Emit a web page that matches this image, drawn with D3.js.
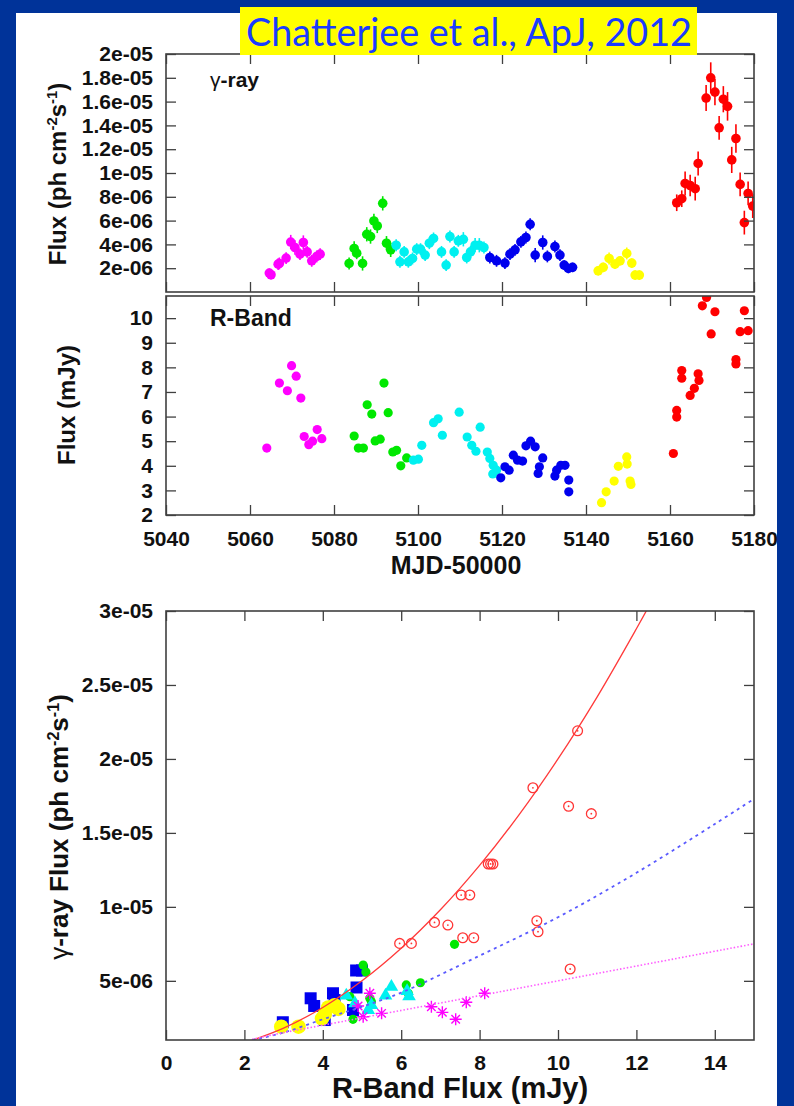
<!DOCTYPE html>
<html>
<head>
<meta charset="utf-8">
<script src="https://cdn.jsdelivr.net/npm/d3@7"></script>
<style>
  body { margin: 0; background: #003399; }
  svg { display: block; }
</style>
</head>
<body>
<div id="chart"></div>
<script>
// ---- tick values / labels ----
const mjdTicks = [5040, 5060, 5080, 5100, 5120, 5140, 5160, 5180];
const gammaTicks = [2e-06, 4e-06, 6e-06, 8e-06, 1e-05, 1.2e-05, 1.4e-05, 1.6e-05, 1.8e-05, 2e-05];
const gammaTickLabels = ["2e-06", "4e-06", "6e-06", "8e-06", "1e-05", "1.2e-05", "1.4e-05", "1.6e-05", "1.8e-05", "2e-05"];
const rTicks = [2, 3, 4, 5, 6, 7, 8, 9, 10];
const scatterXTicks = [0, 2, 4, 6, 8, 10, 12, 14];
const scatterYTicks = [5e-06, 1e-05, 1.5e-05, 2e-05, 2.5e-05, 3e-05];
const scatterYTickLabels = ["5e-06", "1e-05", "1.5e-05", "2e-05", "2.5e-05", "3e-05"];

// gamma-ray light curve: [MJD-50000, flux (1e-6 ph cm-2 s-1), error (1e-6)]
const gammaMagenta = [[5064.6,1.59,0.4],[5065.0,1.45,0.4],[5066.7,2.34,0.5],[5067.0,2.4,0.5],[5068.6,2.85,0.5],[5069.7,4.2,0.6],[5070.7,3.74,0.6],[5071.9,3.18,0.5],[5072.7,4.16,0.6],[5073.6,3.37,0.5],[5074.7,2.62,0.5],[5075.9,2.99,0.5],[5076.7,3.18,0.5]];
const gammaGreen = [[5083.6,2.4,0.5],[5084.8,3.66,0.6],[5085.4,3.26,0.5],[5086.8,2.4,0.6],[5087.8,4.85,0.6],[5088.7,4.66,0.6],[5089.5,5.97,0.6],[5090.3,5.55,0.6],[5091.6,7.45,0.6],[5092.5,4.1,0.6],[5093.5,3.54,0.6]];
const gammaCyan = [[5094.8,3.93,0.5],[5095.7,2.54,0.5],[5096.7,3.37,0.5],[5097.7,2.54,0.5],[5098.7,2.82,0.5],[5099.7,3.6,0.5],[5100.6,3.6,0.5],[5101.7,3.1,0.5],[5102.7,4.1,0.5],[5103.7,4.5,0.5],[5105.6,3.37,0.5],[5106.7,2.26,0.5],[5107.6,4.66,0.5],[5108.6,3.37,0.5],[5109.6,4.3,0.5],[5110.8,4.43,0.6],[5111.6,2.9,0.5],[5112.5,3.37,0.5],[5113.6,3.93,0.6],[5114.6,3.93,0.6],[5115.7,3.74,0.5]];
const gammaBlue = [[5117.1,2.9,0.5],[5118.7,2.62,0.5],[5120.7,2.43,0.5],[5121.9,3.18,0.5],[5123.1,3.54,0.5],[5124.5,4.21,0.5],[5125.7,4.58,0.5],[5126.7,5.69,0.5],[5127.9,3.1,0.6],[5129.7,4.16,0.6],[5130.8,2.99,0.5],[5132.6,3.82,0.5],[5133.8,3.1,0.5],[5134.8,2.26,0.4],[5135.8,1.98,0.4],[5136.8,2.07,0.4]];
const gammaYellow = [[5142.9,1.78,0.4],[5144.1,2.07,0.4],[5145.5,2.82,0.5],[5146.9,2.34,0.4],[5148.1,2.62,0.4],[5149.7,3.24,0.5],[5150.9,2.43,0.4],[5151.7,1.42,0.4],[5152.7,1.42,0.4]];
const gammaRed = [[5161.6,7.5,0.7],[5162.8,7.84,0.7],[5163.6,9.12,1.0],[5164.8,8.95,0.9],[5166.0,8.68,1.0],[5166.7,10.8,1.0],[5168.6,16.3,1.1],[5169.7,18.0,1.3],[5170.7,16.8,1.1],[5171.7,13.8,1.0],[5172.7,16.2,1.1],[5173.7,15.6,1.2],[5174.7,11.1,1.1],[5175.7,12.9,1.2],[5176.7,9.04,1.0],[5177.7,5.83,1.0],[5178.6,8.28,1.0],[5179.7,7.22,1.0]];

// R-band light curve: [MJD-50000, flux (mJy)]
const rMagenta = [[5064.0,4.72],[5067.0,7.36],[5068.9,7.05],[5069.9,8.07],[5071.0,7.64],[5072.1,6.75],[5072.9,5.19],[5074.0,4.86],[5074.9,5.0],[5076.0,5.47],[5077.1,5.1]];
const rGreen = [[5084.8,5.21],[5085.8,4.72],[5087.0,4.72],[5087.9,6.48],[5089.0,6.1],[5089.8,5.01],[5091.0,5.08],[5091.9,7.36],[5092.9,6.16],[5094.0,4.56],[5094.9,4.63],[5095.9,4.0],[5097.3,4.32]];
const rCyan = [[5098.9,4.23],[5100.1,4.27],[5100.9,4.83],[5103.7,5.75],[5104.8,5.91],[5105.8,5.24],[5109.8,6.18],[5111.7,5.17],[5112.8,4.83],[5113.8,4.59],[5114.8,5.57],[5116.5,4.56],[5117.1,4.3],[5117.9,4.02],[5118.7,3.82],[5117.8,3.67]];
const rBlue = [[5119.7,3.51],[5120.7,3.96],[5121.7,3.82],[5122.7,4.43],[5123.7,4.23],[5124.9,4.19],[5125.7,4.81],[5126.8,5.0],[5127.9,4.77],[5128.6,3.69],[5128.9,3.96],[5129.7,4.32],[5132.6,3.58],[5133.0,3.82],[5134.0,4.02],[5135.0,4.02],[5135.9,3.42],[5135.9,2.94]];
const rYellow = [[5143.7,2.5],[5144.8,2.94],[5146.7,3.38],[5147.7,3.98],[5149.7,4.36],[5149.8,4.07],[5150.5,3.38],[5150.7,3.24]];
const rRed = [[5160.8,4.5],[5161.6,6.25],[5161.6,5.98],[5162.8,7.87],[5162.8,7.56],[5164.8,6.86],[5165.8,7.15],[5166.7,7.74],[5166.9,7.47],[5167.7,10.5],[5168.7,10.84],[5169.8,9.36],[5170.7,10.26],[5175.7,8.32],[5175.7,8.14],[5176.7,9.45],[5177.7,10.3],[5178.6,9.49]];

// gamma vs R scatter: [R flux (mJy), gamma flux (1e-6)]
const scatterRed = [[5.96,7.53],[6.26,7.53],[6.85,8.95],[7.19,8.77],[7.53,10.8],[7.75,10.8],[7.57,7.91],[7.85,7.91],[8.22,12.9],[8.28,12.9],[8.34,12.9],[9.36,18.05],[9.46,9.06],[9.49,8.32],[10.27,16.8],[10.31,5.8],[10.5,21.9],[10.85,16.3]];
const scatterGreen = [[7.36,7.47],[6.13,4.72],[6.18,4.16],[6.49,4.87],[5.03,6.07],[5.1,5.6],[5.24,3.59],[4.77,2.4],[4.69,3.93],[5.2,3.82]];
const scatterCyan = [[4.6,4.0],[4.82,3.48],[5.16,3.03],[5.24,3.36],[5.6,4.0],[5.75,4.6],[6.2,3.95],[6.15,4.3]];
const scatterBlue = [[2.98,2.2],[3.69,3.82],[3.78,3.3],[4.05,2.35],[4.26,4.16],[4.3,3.7],[4.77,3.03],[4.86,4.55],[4.85,5.7],[5.0,5.7]];
const scatterYellow = [[2.94,1.9],[3.38,1.9],[3.98,2.45],[4.05,2.75],[4.14,3.2],[4.3,3.35],[4.4,3.1]];
const scatterMagenta = [[4.9,3.3],[5.03,2.57],[5.2,4.16],[5.5,2.8],[6.77,3.25],[7.05,2.87],[7.39,2.4],[7.66,3.55],[8.13,4.16]];

// fitted curves: [R flux, gamma flux (1e-6)]
const fitRed = [[2.0,0.8],[3,1.8],[4,3.2],[5,5.0],[6,7.2],[7,9.8],[8,12.8],[9,16.2],[10,20.0],[11,24.2],[12,28.8],[12.5,31.2]];
const fitBlue = [[2.2,1.0],[3,1.5],[4,2.4],[5,3.25],[6,4.2],[8,6.7],[10,9.3],[12,12.3],[14,15.6],[15,17.3]];
const fitMagenta = [[2.2,1.05],[3,1.5],[4,2.0],[6,3.0],[8,4.0],[10,5.0],[12,6.0],[15,7.5]];

const U = 1e-06;
const W = 794, H = 1106;
const left = 166, right = 754;
const FONT = "'Liberation Sans', Arial, Helvetica, sans-serif";
const C = { magenta: "#ff00ff", green: "#00e800", cyan: "#00f0f0", blue: "#0000ee", yellow: "#ffff00", red: "#ff0000" };

const svg = d3.select("#chart").append("svg")
    .attr("width", W)
    .attr("height", H)
    .attr("viewBox", [0, 0, W, H]);

svg.append("rect").attr("width", W).attr("height", H).attr("fill", "#003399");
svg.append("rect").attr("x", 16).attr("y", 13).attr("width", 761).attr("height", H - 13).attr("fill", "#ffffff");

const defs = svg.append("defs");
function clip(id, top, bottom) {
    defs.append("clipPath").attr("id", id)
        .append("rect").attr("x", left).attr("y", top).attr("width", right - left).attr("height", bottom - top);
}

// scales
const xT = d3.scaleLinear().domain([5040, 5180]).range([left, right]);
const yG = d3.scaleLinear().domain([0, 2e-05]).range([292, 54]);
const yR = d3.scaleLinear().domain([2, 10.9]).range([515, 296]);
const xS = d3.scaleLinear().domain([0, 15]).range([left, right]);
const yS = d3.scaleLinear().domain([1e-06, 3e-05]).range([1040, 611]);

function drawAxes(x, y, top, bottom, o) {
    const g = svg.append("g");
    g.append("g").attr("transform", `translate(${left},0)`)
        .call(d3.axisLeft(y).tickValues(o.yTicks).tickFormat((d, i) => o.yLabels[i]).tickSize(-10).tickPadding(13));
    g.append("g").attr("transform", `translate(${right},0)`)
        .call(d3.axisRight(y).tickValues(o.yTicks).tickFormat("").tickSize(-10));
    g.append("g").attr("transform", `translate(0,${bottom})`)
        .call(d3.axisBottom(x).tickValues(o.xTicks).tickFormat(o.xLabels ? d3.format("d") : "").tickSize(-10).tickPadding(o.xPad || 10));
    g.append("g").attr("transform", `translate(0,${top})`)
        .call(d3.axisTop(x).tickValues(o.xTicks).tickFormat("").tickSize(-10));
    g.selectAll(".domain").remove();
    g.selectAll(".tick line").attr("stroke", "#404040").attr("stroke-width", 1.3);
    g.selectAll(".tick text")
        .attr("font-family", FONT)
        .attr("font-size", 21)
        .attr("font-weight", "bold")
        .attr("fill", "#111");
    g.append("rect")
        .attr("x", left).attr("y", top)
        .attr("width", right - left).attr("height", bottom - top)
        .attr("fill", "none").attr("stroke", "#404040").attr("stroke-width", 1.6);
}

// ---------- top panel: gamma-ray light curve ----------
clip("clipG", 54, 292);
const gPanel = svg.append("g").attr("clip-path", "url(#clipG)");
[[gammaMagenta, C.magenta], [gammaGreen, C.green], [gammaCyan, C.cyan], [gammaBlue, C.blue], [gammaYellow, C.yellow], [gammaRed, C.red]]
    .forEach(([data, col]) => {
        gPanel.selectAll(null).data(data).enter().append("line")
            .attr("x1", d => xT(d[0])).attr("x2", d => xT(d[0]))
            .attr("y1", d => yG((d[1] - d[2]) * U)).attr("y2", d => yG((d[1] + d[2]) * U))
            .attr("stroke", col).attr("stroke-width", 1.6);
        gPanel.selectAll(null).data(data).enter().append("circle")
            .attr("cx", d => xT(d[0])).attr("cy", d => yG(d[1] * U))
            .attr("r", 4.8).attr("fill", col);
    });
drawAxes(xT, yG, 54, 292, { yTicks: gammaTicks, yLabels: gammaTickLabels, xTicks: mjdTicks, xLabels: false });

// ---------- middle panel: R-band light curve ----------
clip("clipR", 296, 515);
const rPanel = svg.append("g").attr("clip-path", "url(#clipR)");
[[rMagenta, C.magenta], [rGreen, C.green], [rCyan, C.cyan], [rBlue, C.blue], [rYellow, C.yellow], [rRed, C.red]]
    .forEach(([data, col]) => {
        rPanel.selectAll(null).data(data).enter().append("circle")
            .attr("cx", d => xT(d[0])).attr("cy", d => yR(d[1]))
            .attr("r", 4.6).attr("fill", col);
    });
drawAxes(xT, yR, 296, 515, { yTicks: rTicks, yLabels: rTicks.map(String), xTicks: mjdTicks, xLabels: true, xPad: 16 });

// ---------- bottom panel: gamma vs R ----------
clip("clipS", 611, 1040);
const sPanel = svg.append("g").attr("clip-path", "url(#clipS)");
const sx = d => xS(d[0]), sy = d => yS(d[1] * U);

sPanel.selectAll(null).data(scatterBlue).enter().append("rect")
    .attr("x", d => sx(d) - 6).attr("y", d => sy(d) - 6)
    .attr("width", 12).attr("height", 12).attr("fill", C.blue);
sPanel.selectAll(null).data(scatterGreen).enter().append("circle")
    .attr("cx", sx).attr("cy", sy).attr("r", 4.6).attr("fill", C.green);
sPanel.selectAll(null).data(scatterCyan).enter().append("path")
    .attr("transform", d => `translate(${sx(d)},${sy(d)})`)
    .attr("d", d3.symbol(d3.symbolTriangle, 80)).attr("fill", C.cyan);
function star(r) {
    const p = d3.path();
    for (let k = 0; k < 4; k++) {
        const a = k * Math.PI / 4;
        p.moveTo(-r * Math.cos(a), -r * Math.sin(a));
        p.lineTo(r * Math.cos(a), r * Math.sin(a));
    }
    return p.toString();
}
sPanel.selectAll(null).data(scatterMagenta).enter().append("path")
    .attr("transform", d => `translate(${sx(d)},${sy(d)})`)
    .attr("d", star(6)).attr("fill", "none").attr("stroke", C.magenta).attr("stroke-width", 1.4);
sPanel.selectAll(null).data(scatterYellow).enter().append("circle")
    .attr("cx", sx).attr("cy", sy).attr("r", 7.3).attr("fill", C.yellow);
const redG = sPanel.selectAll(null).data(scatterRed).enter().append("g")
    .attr("transform", d => `translate(${sx(d)},${sy(d)})`);
redG.append("circle").attr("r", 4.9).attr("fill", "none").attr("stroke", "#ff3535").attr("stroke-width", 1.3);
redG.append("circle").attr("r", 0.9).attr("fill", "#ff3535");

const fitLine = d3.line().x(sx).y(sy).curve(d3.curveCatmullRom);
sPanel.append("path").attr("d", fitLine(fitRed))
    .attr("fill", "none").attr("stroke", "#ff3a3a").attr("stroke-width", 1.3);
sPanel.append("path").attr("d", fitLine(fitBlue))
    .attr("fill", "none").attr("stroke", "#5a5aff").attr("stroke-width", 1.8).attr("stroke-dasharray", "3,4");
sPanel.append("path").attr("d", fitLine(fitMagenta))
    .attr("fill", "none").attr("stroke", "#ff5cff").attr("stroke-width", 1.6).attr("stroke-dasharray", "1.5,2");

drawAxes(xS, yS, 611, 1040, { yTicks: scatterYTicks, yLabels: scatterYTickLabels, xTicks: scatterXTicks, xLabels: true, xPad: 15 });

// ---------- labels ----------
function txt(x, y, size) {
    return svg.append("text").attr("x", x).attr("y", y)
        .attr("font-family", FONT).attr("font-size", size).attr("font-weight", "bold").attr("fill", "#111");
}
const gl = txt(210, 87, 21);
gl.append("tspan").attr("font-weight", "normal").text("\u03b3");
gl.append("tspan").text("-ray");
txt(210, 326, 23).text("R-Band");

function fluxLabel(t, prefix) {
    t.append("tspan").text(prefix + "Flux (ph cm");
    t.append("tspan").attr("dy", -9).attr("font-size", "0.62em").text("-2");
    t.append("tspan").attr("dy", 9).text("s");
    t.append("tspan").attr("dy", -9).attr("font-size", "0.62em").text("-1");
    t.append("tspan").attr("dy", 9).text(")");
}
const yl1 = svg.append("text").attr("transform", "translate(66,174) rotate(-90)")
    .attr("text-anchor", "middle").attr("font-family", FONT).attr("font-size", 24)
    .attr("font-weight", "bold").attr("fill", "#111");
fluxLabel(yl1, "");
svg.append("text").attr("transform", "translate(75,405) rotate(-90)")
    .attr("text-anchor", "middle").attr("font-family", FONT).attr("font-size", 24)
    .attr("font-weight", "bold").attr("fill", "#111").text("Flux (mJy)");
const yl3 = svg.append("text").attr("transform", "translate(68,827) rotate(-90)")
    .attr("text-anchor", "middle").attr("font-family", FONT).attr("font-size", 26)
    .attr("font-weight", "bold").attr("fill", "#111");
yl3.append("tspan").attr("font-weight", "normal").text("\u03b3");
fluxLabel(yl3, "-ray ");

txt(456, 574, 25).attr("text-anchor", "middle").text("MJD-50000");
txt(460, 1098, 29).attr("text-anchor", "middle").text("R-Band Flux (mJy)");

// ---------- title ----------
svg.append("rect").attr("x", 240).attr("y", 7).attr("width", 457).attr("height", 48).attr("fill", "#ffff00");
svg.append("text").attr("x", 246).attr("y", 46)
    .attr("font-family", "Lato, 'Open Sans', sans-serif").attr("font-size", 38)
    .attr("fill", "#1a3cff")
    .attr("textLength", 446).attr("lengthAdjust", "spacingAndGlyphs")
    .text("Chatterjee et al., ApJ, 2012");
</script>
</body>
</html>
